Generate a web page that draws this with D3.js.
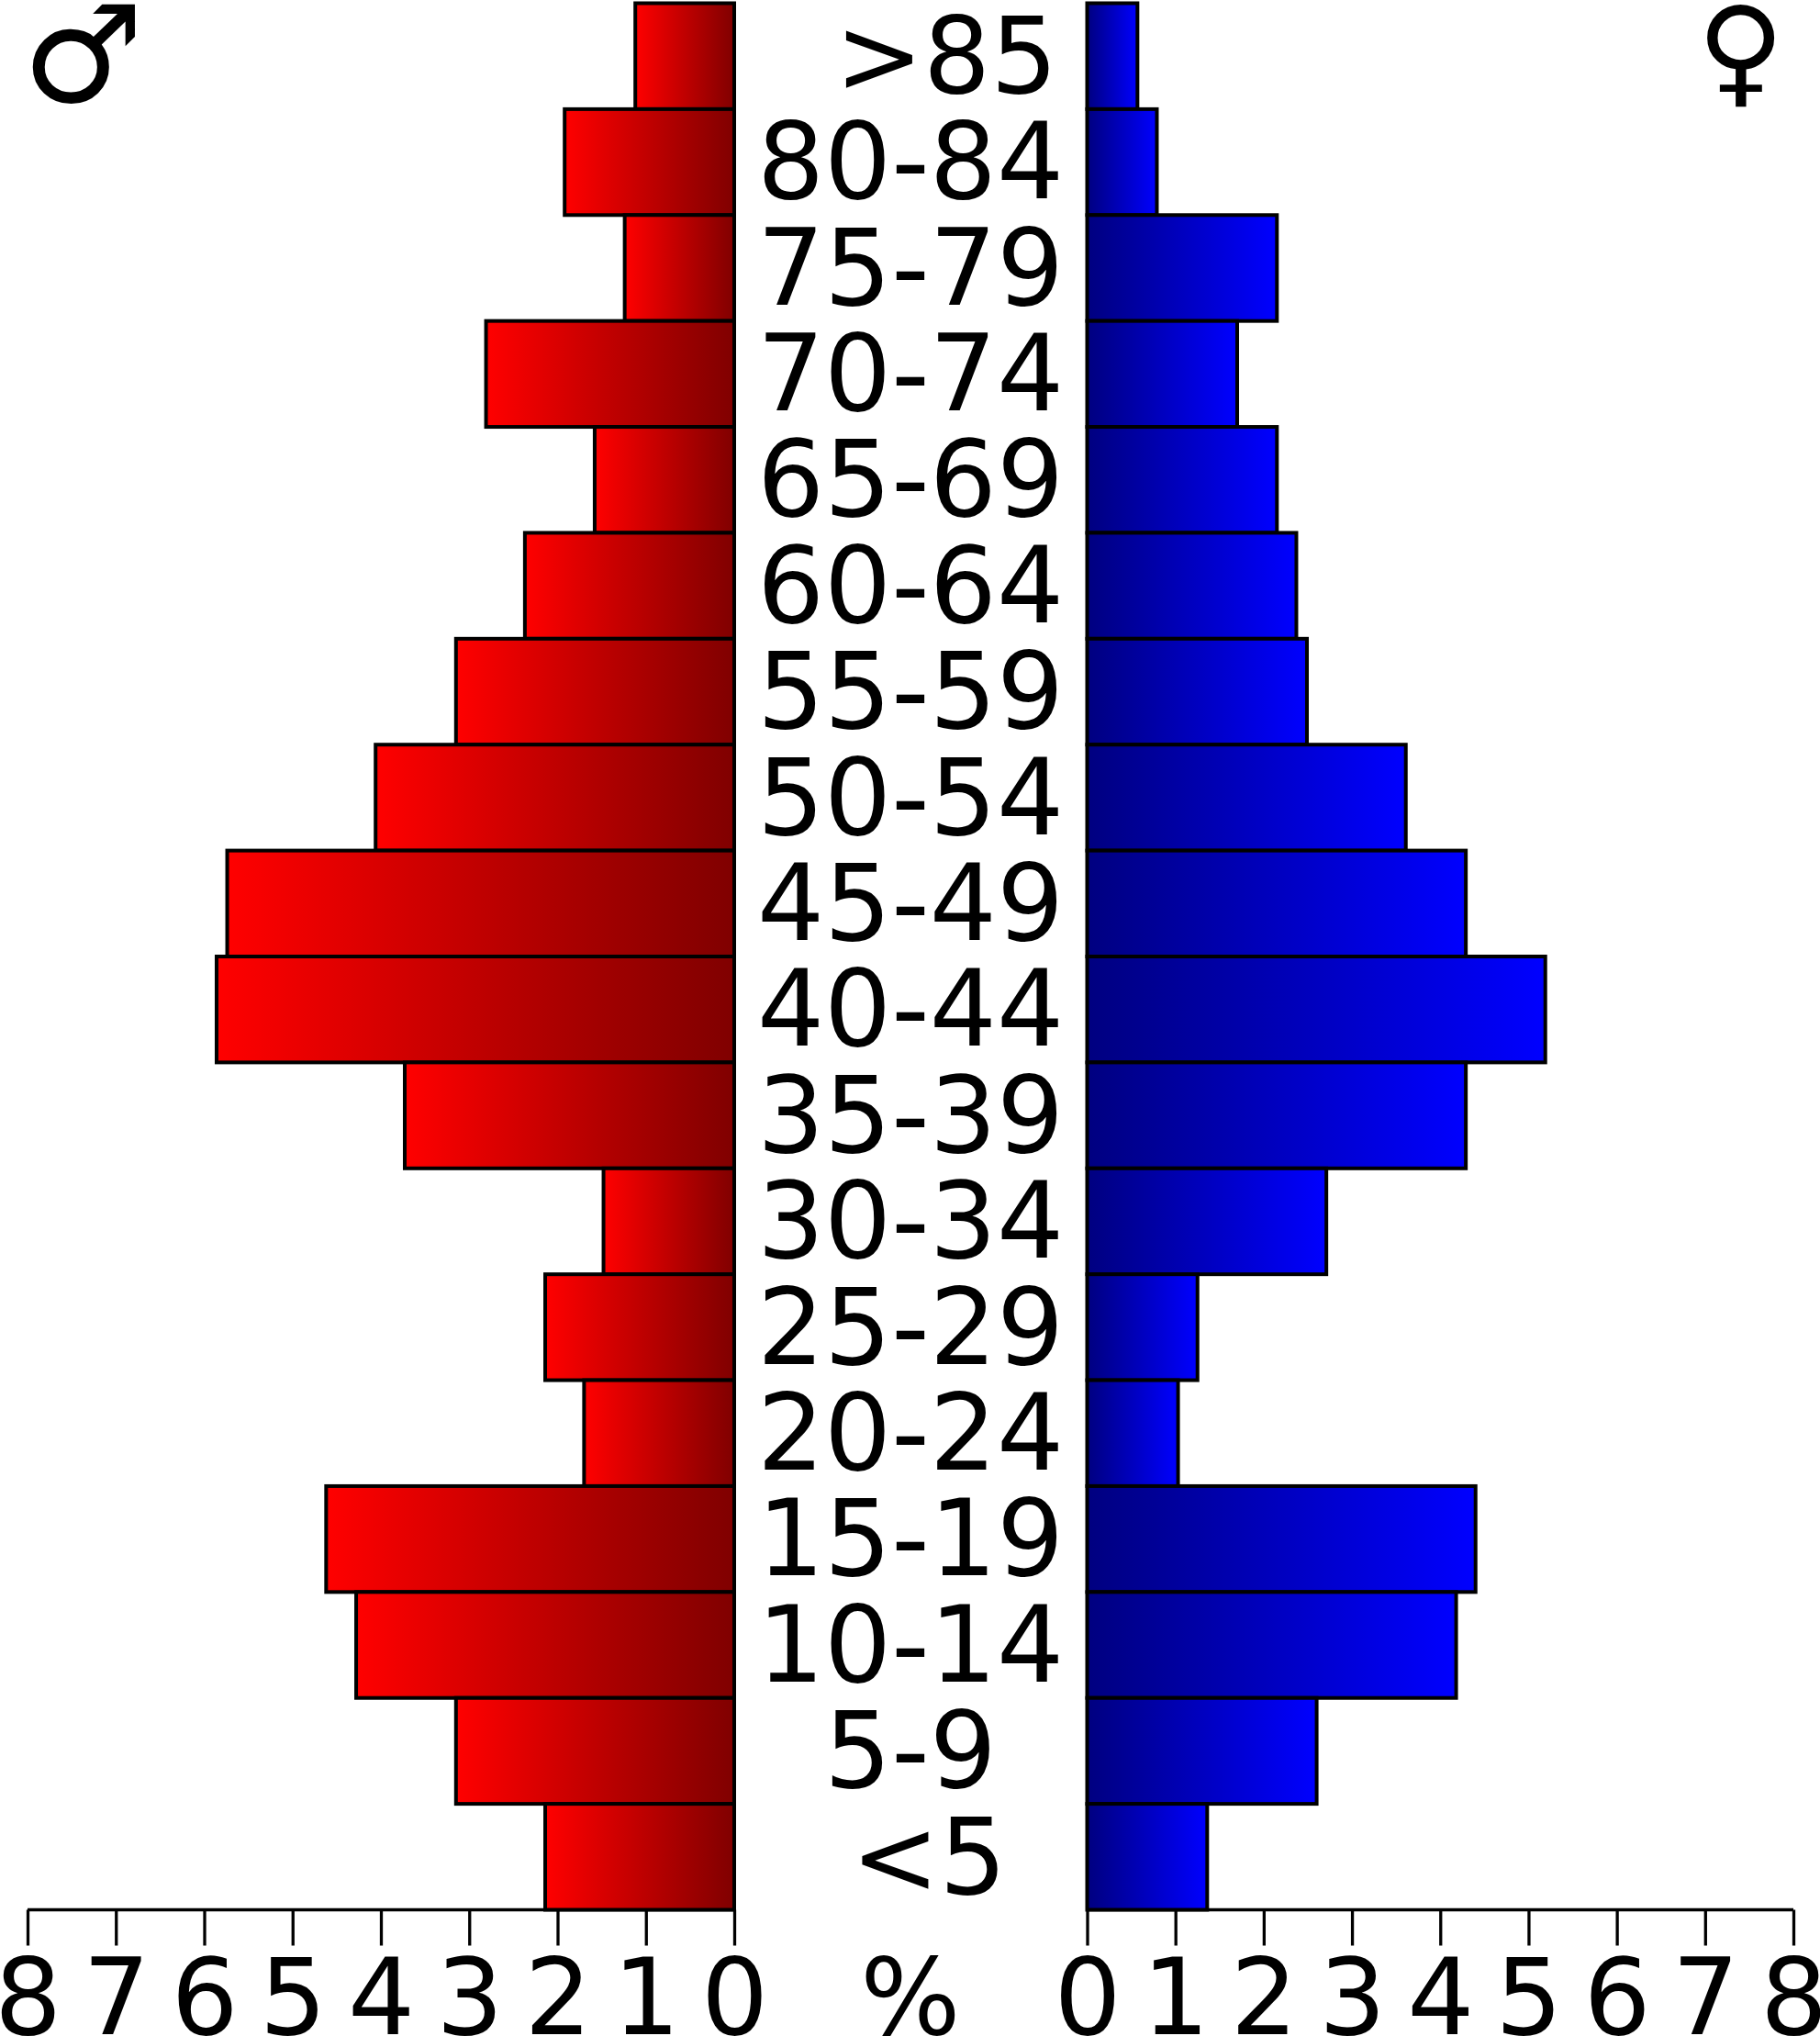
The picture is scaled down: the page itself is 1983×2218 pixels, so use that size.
<!DOCTYPE html>
<html>
<head>
<meta charset="utf-8">
<script src="https://cdn.jsdelivr.net/npm/d3@7"></script>
<style>
html, body { margin: 0; padding: 0; background: #fff; }
svg { display: block; }
text { font-family: "DejaVu Sans"; fill: #000; }
</style>
</head>
<body>
<div id="chart"></div>
<script>
var ageGroups = [">85","80-84","75-79","70-74","65-69","60-64","55-59","50-54","45-49","40-44","35-39","30-34","25-29","20-24","15-19","10-14","5-9","<5"];
var maleValues = [1.12,1.92,1.24,2.81,1.58,2.37,3.15,4.06,5.74,5.86,3.73,1.48,2.14,1.70,4.62,4.28,3.15,2.14];
var femaleValues = [0.57,0.79,2.15,1.70,2.15,2.37,2.49,3.61,4.29,5.19,4.29,2.71,1.25,1.03,4.40,4.18,2.60,1.36];
var tickValues = [0,1,2,3,4,5,6,7,8];

var width = 1983, height = 2218;
var axisY = 2080.5;
var fontSize = 115;

var svg = d3.select("#chart").append("svg")
	.attr("width", width)
	.attr("height", height);

var defs = svg.append("defs");
function addGradient(id, from, to){
	var g = defs.append("linearGradient").attr("id", id);
	g.append("stop").attr("offset", "0%").attr("stop-color", from);
	g.append("stop").attr("offset", "100%").attr("stop-color", to);
}
addGradient("maleFill", "#ff0000", "#800000");
addGradient("femaleFill", "#000080", "#0000ff");

var y = d3.scaleBand().domain(ageGroups).range([3.5, axisY]);
var xMale = d3.scaleLinear().domain([0, 8]).range([800, 30]);
var xFemale = d3.scaleLinear().domain([0, 8]).range([1184.5, 1954]);

function drawAxis(scale){
	var axis = d3.axisBottom(scale)
		.tickValues(tickValues)
		.tickFormat(d3.format("d"))
		.tickSize(39)
		.tickPadding(12);
	var g = svg.append("g")
		.attr("transform", "translate(0," + axisY + ")")
		.attr("font-family", null)
		.attr("font-size", null)
		.call(axis);
	g.select(".domain").attr("stroke-width", 3.3).attr("d", "M" + scale.range()[0] + ",0H" + scale.range()[1]);
	g.selectAll(".tick line").attr("stroke-width", 3.3);
	g.selectAll(".tick text")
		.attr("dy", null)
		.attr("y", 135.5)
		.attr("font-size", fontSize);
}
drawAxis(xMale);
drawAxis(xFemale);

svg.append("g").selectAll("rect")
	.data(maleValues)
	.join("rect")
	.attr("x", function(d){ return xMale(d); })
	.attr("y", function(d, i){ return y(ageGroups[i]); })
	.attr("width", function(d){ return xMale(0) - xMale(d); })
	.attr("height", y.bandwidth())
	.attr("fill", "url(#maleFill)")
	.attr("stroke", "#000")
	.attr("stroke-width", 4);

svg.append("g").selectAll("rect")
	.data(femaleValues)
	.join("rect")
	.attr("x", xFemale(0))
	.attr("y", function(d, i){ return y(ageGroups[i]); })
	.attr("width", function(d){ return xFemale(d) - xFemale(0); })
	.attr("height", y.bandwidth())
	.attr("fill", "url(#femaleFill)")
	.attr("stroke", "#000")
	.attr("stroke-width", 4);

// the two outer labels sit right of the common centre
function labelShift(d){
	if(d == ">85") return 39;
	if(d == "<5") return 20;
	return 0;
}

svg.append("g").selectAll("text")
	.data(ageGroups)
	.join("text")
	.attr("x", function(d){ return 992 + labelShift(d); })
	.attr("y", function(d){ return y(d) + y.bandwidth() - 18; })
	.attr("text-anchor", "middle")
	.attr("font-size", fontSize)
	.text(function(d){ return d; });

svg.append("text")
	.attr("x", 992)
	.attr("y", 2216)
	.attr("text-anchor", "middle")
	.attr("font-size", fontSize)
	.text("%");

svg.append("text").attr("x", 24).attr("y", 111).attr("font-size", 148).attr("font-weight", "bold").text("\u2642");
svg.append("text").attr("x", 1849).attr("y", 100).attr("font-size", 130).attr("font-weight", "bold").text("\u2640");
</script>
</body>
</html>
